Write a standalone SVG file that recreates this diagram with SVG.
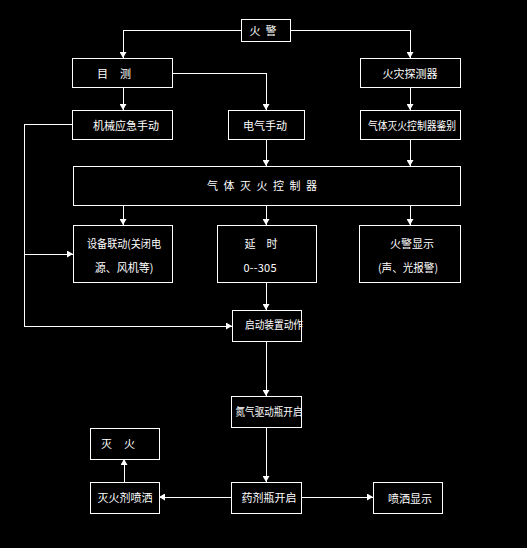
<svg xmlns="http://www.w3.org/2000/svg" width="527" height="548" viewBox="0 0 527 548">
<style>
.box{fill:none;stroke:#fff;stroke-width:1;shape-rendering:crispEdges}
.t{fill:#fff;font-family:"Noto Sans CJK SC","Noto Sans",sans-serif;font-size:11px;text-anchor:middle;dominant-baseline:central}
.c{fill:none;stroke:#fff;stroke-width:1;shape-rendering:crispEdges}
</style>
<defs>
<marker id="ah" markerUnits="userSpaceOnUse" markerWidth="7" markerHeight="7" refX="6" refY="3.5" orient="auto">
<path d="M0,0 L6,3.5 L0,7 z" fill="#fff"/>
</marker>
</defs>
<rect width="527" height="548" fill="#000"/>
<g id="connectors">
<path class="c" d="M241,30 H123 V58" marker-end="url(#ah)"/>
<path class="c" d="M290,30 H410 V58" marker-end="url(#ah)"/>
<path class="c" d="M123,87 V110" marker-end="url(#ah)"/>
<path class="c" d="M172,73 H266 V110" marker-end="url(#ah)"/>
<path class="c" d="M410,87 V110" marker-end="url(#ah)"/>
<path class="c" d="M266,139 V166" marker-end="url(#ah)"/>
<path class="c" d="M410,139 V166" marker-end="url(#ah)"/>
<path class="c" d="M123,205 V225" marker-end="url(#ah)"/>
<path class="c" d="M266,205 V225" marker-end="url(#ah)"/>
<path class="c" d="M410,205 V225" marker-end="url(#ah)"/>
<path class="c" d="M72,124 H24 V326 H232" marker-end="url(#ah)"/>
<path class="c" d="M24,254 H73" marker-end="url(#ah)"/>
<path class="c" d="M266,282 V310" marker-end="url(#ah)"/>
<path class="c" d="M266,341 V396" marker-end="url(#ah)"/>
<path class="c" d="M266,427 V482" marker-end="url(#ah)"/>
<path class="c" d="M231,497 H159" marker-end="url(#ah)"/>
<path class="c" d="M301,497 H373" marker-end="url(#ah)"/>
<path class="c" d="M124,482 V459" marker-end="url(#ah)"/>
</g>
<g id="n-huojing"><rect class="box" x="241" y="19" width="49" height="22"/><text class="t" x="263" y="30" textLength="27" lengthAdjust="spacing">火警</text></g>
<g id="n-muce"><rect class="box" x="72" y="58" width="100" height="29"/><text class="t" x="114" y="73" textLength="34" lengthAdjust="spacing">目测</text></g>
<g id="n-tanceqi"><rect class="box" x="360" y="58" width="100" height="29"/><text class="t" x="410" y="73">火灾探测器</text></g>
<g id="n-jixie"><rect class="box" x="72" y="110" width="100" height="29"/><text class="t" x="126" y="125">机械应急手动</text></g>
<g id="n-dianqi"><rect class="box" x="228" y="110" width="76" height="29"/><text class="t" x="265" y="125">电气手动</text></g>
<g id="n-jianbie"><rect class="box" x="360" y="110" width="100" height="29"/><text class="t" x="412" y="125" textLength="88" lengthAdjust="spacingAndGlyphs">气体灭火控制器鉴别</text></g>
<g id="n-kongzhiqi"><rect class="box" x="73" y="166" width="387" height="39"/><text class="t" x="262" y="185" textLength="110" lengthAdjust="spacing">气体灭火控制器</text></g>
<g id="n-shebei"><rect class="box" x="73" y="225" width="99" height="57"/><text class="t" x="124" y="243" textLength="74" lengthAdjust="spacingAndGlyphs">设备联动(关闭电</text><text class="t" x="124" y="267">源、风机等)</text></g>
<g id="n-yanshi"><rect class="box" x="217" y="225" width="99" height="57"/><text class="t" x="261" y="243" textLength="33" lengthAdjust="spacing">延时</text><text class="t" x="260" y="267" font-size="10" textLength="33" lengthAdjust="spacing">0--305</text></g>
<g id="n-xianshi"><rect class="box" x="359" y="225" width="101" height="57"/><text class="t" x="412" y="243">火警显示</text><text class="t" x="408" y="267" textLength="60" lengthAdjust="spacingAndGlyphs">(声、光报警)</text></g>
<g id="n-qidong"><rect class="box" x="232" y="310" width="69" height="31"/><text class="t" x="274" y="324" textLength="58" lengthAdjust="spacingAndGlyphs">启动装置动作</text></g>
<g id="n-danqi"><rect class="box" x="231" y="396" width="70" height="31"/><text class="t" x="269" y="411" textLength="67" lengthAdjust="spacingAndGlyphs">氮气驱动瓶开启</text></g>
<g id="n-yaoji"><rect class="box" x="231" y="482" width="70" height="31"/><text class="t" x="269" y="497">药剂瓶开启</text></g>
<g id="n-penza"><rect class="box" x="90" y="482" width="69" height="31"/><text class="t" x="125" y="497">灭火剂喷洒</text></g>
<g id="n-penxianshi"><rect class="box" x="373" y="482" width="69" height="31"/><text class="t" x="410" y="498">喷洒显示</text></g>
<g id="n-miehuo"><rect class="box" x="90" y="428" width="69" height="31"/><text class="t" x="118" y="443" textLength="34" lengthAdjust="spacing">灭火</text></g>
</svg>
